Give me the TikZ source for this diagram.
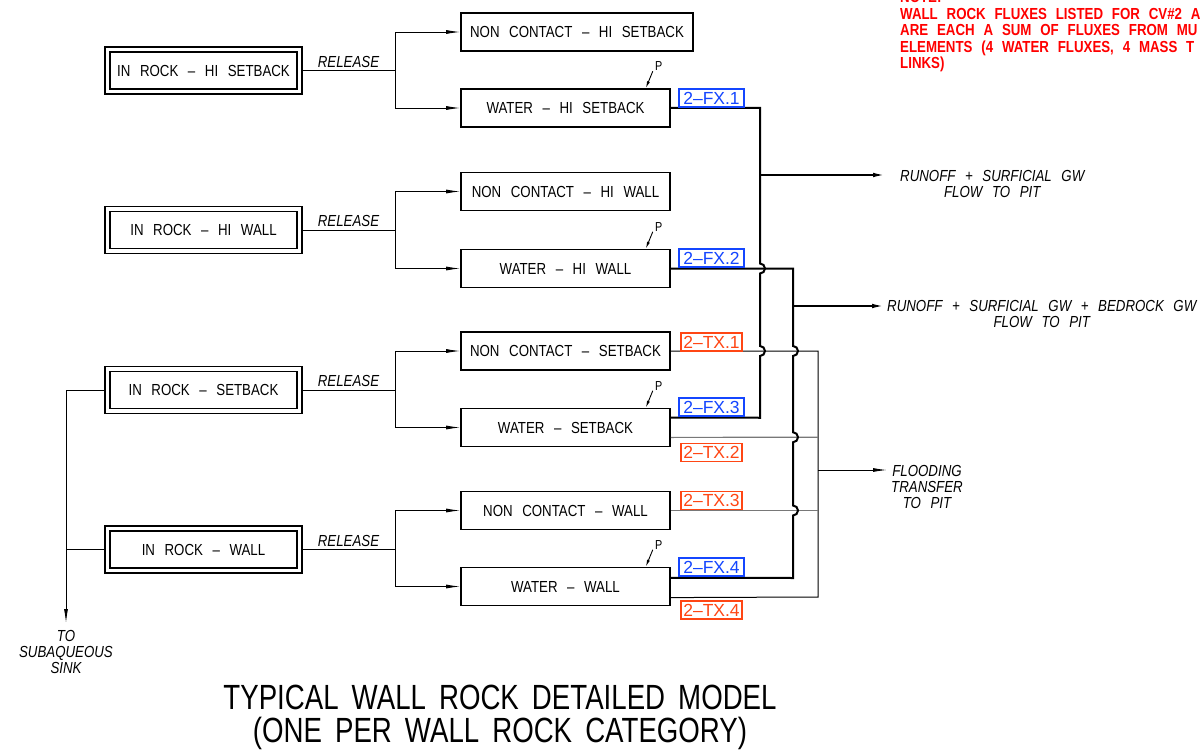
\documentclass[tikz,border=0pt]{standalone}
\usepackage{fontspec}
\setmainfont{Liberation Sans}[FakeStretch=0.83, WordSpace=2.6]
\newfontfamily\labfont{Liberation Sans}
\newfontfamily\titlefont{Liberation Sans}[FakeStretch=0.79, WordSpace=1.7]
\newfontfamily\notefont{Liberation Sans}[FakeStretch=0.83, WordSpace=2.4]
\usetikzlibrary{arrows.meta,calc}
\definecolor{fxblue}{RGB}{20,70,255}
\definecolor{txorange}{RGB}{255,70,20}
\definecolor{notered}{RGB}{255,0,0}
\definecolor{txgray}{RGB}{120,120,120}
\begin{document}
\begin{tikzpicture}[x=1pt,y=-1pt,
  every node/.style={font=\fontsize{16}{16}\selectfont, inner sep=0pt},
  procbox/.style={draw, line width=1.6pt, minimum height=38pt, minimum width=209pt},
  srcbox/.style={draw, line width=1.2pt, double, double distance=3.8pt, minimum width=192pt, minimum height=42pt, outer sep=2.5pt},
  flow/.style={-{Latex[length=14pt,width=4pt]}, line width=0.9pt},
  fx/.style={line width=2pt},
  tx/.style={line width=1pt},
  txg/.style={line width=1.2pt, txgray},
  fxlab/.style={draw=fxblue, text=fxblue, line width=1.3pt, minimum width=65pt, minimum height=18pt, font=\labfont\fontsize{17.5}{17.5}\selectfont},
  txlab/.style={draw=txorange, text=txorange, line width=1.3pt, minimum width=61pt, minimum height=18pt, font=\labfont\fontsize{17.5}{17.5}\selectfont},
  rel/.style={font=\fontsize{16}{16}\selectfont\itshape},
  outtxt/.style={font=\fontsize{16}{16}\selectfont\itshape, align=center},
  pmark/.style={font=\fontsize{13}{13}\selectfont},
  note/.style={text=notered, anchor=base west, font=\notefont\bfseries\fontsize{16}{16}\selectfont}
]
\useasboundingbox (0,0) rectangle (1203,752);
\fill[white] (0,0) rectangle (1203,752);

% source boxes
\node[srcbox] (s1) at (203.5,70.5) {IN ROCK – HI SETBACK};
\node[srcbox] (s2) at (203.5,230) {IN ROCK – HI WALL};
\node[srcbox] (s3) at (203.5,390) {IN ROCK – SETBACK};
\node[srcbox] (s4) at (203.5,549.5) {IN ROCK – WALL};

% process boxes
\node[procbox, minimum width=232pt] (nc1) at (577,32) {NON CONTACT – HI SETBACK};
\node[procbox] (w1) at (565.5,108) {WATER – HI SETBACK};
\node[procbox] (nc2) at (565.5,191.5) {NON CONTACT – HI WALL};
\node[procbox] (w2) at (565.5,268.5) {WATER – HI WALL};
\node[procbox] (nc3) at (565.5,351) {NON CONTACT – SETBACK};
\node[procbox] (w3) at (565.5,427.5) {WATER – SETBACK};
\node[procbox] (nc4) at (565.5,510.5) {NON CONTACT – WALL};
\node[procbox] (w4) at (565.5,586.5) {WATER – WALL};

% release branches
\foreach \s/\nc/\w/\y in {s1/nc1/w1/70.5, s2/nc2/w2/230, s3/nc3/w3/390, s4/nc4/w4/549.5}{
  \coordinate (b\s) at (395,\y);
  \draw[line width=0.9pt] (\s.east) -- node[rel, above=2.5pt]{RELEASE} (b\s);
  \draw[flow] (b\s) |- (\nc.west);
  \draw[flow] (b\s) |- (\w.west);
}

% P markers
\foreach \w/\n in {w1/1, w2/2, w3/3, w4/4}{
  \coordinate (ptip\n) at ($(\w.north east)+(-25,0)$);
  \coordinate (ptail\n) at ($(\w.north east)+(-18,-17)$);
  \draw[-{Latex[length=7pt,width=3pt]}, line width=0.9pt] (ptail\n) -- (ptip\n);
  \node[pmark] (p\n) at ($(\w.north east)+(-12,-22)$) {P};
}

% connection points on water boxes
\coordinate (w3fx) at ($(w3.north east)!0.25!(w3.south east)$);
\coordinate (w3tx) at ($(w3.north east)!0.75!(w3.south east)$);
\coordinate (w4fx) at ($(w4.north east)!0.28!(w4.south east)$);
\coordinate (w4tx) at ($(w4.north east)!0.78!(w4.south east)$);

% TX lines (drawn first)
\draw[tx] (nc3.east) -- (818,351) -- (818,597) -- (w4tx);
\draw[txg] (w3tx) -- (818,437.25);
\draw[txg] (nc4.east) -- (818,510.5);
\coordinate (fltip) at (887,470);
\draw[flow] (818,470) -- (fltip);

% FX collector A (x=760)
\draw[fx] (w1.east) -- (760,108) -- (760,263.5) arc[start angle=90,end angle=-90,radius=5pt]
  -- (760,346) arc[start angle=90,end angle=-90,radius=5pt] -- (760,417.75) -- (w3fx);
\coordinate (runA) at (887,175);
\draw[fx, -{Latex[length=14pt,width=4.5pt]}] (760,175) -- (runA);

% FX collector B (x=793)
\draw[fx] (w2.east) -- (793,268.5) -- (793,346) arc[start angle=90,end angle=-90,radius=5pt]
  -- (793,432.25) arc[start angle=90,end angle=-90,radius=5pt]
  -- (793,505.5) arc[start angle=90,end angle=-90,radius=5pt] -- (793,578) -- (w4fx);
\coordinate (runB) at (886,306);
\draw[fx, -{Latex[length=14pt,width=4.5pt]}] (793,306) -- (runB);

% labels
\node[fxlab] (lfx1) at (711.5,98) {2–FX.1};
\node[fxlab] (lfx2) at (711.5,258) {2–FX.2};
\node[txlab] (ltx1) at (711.5,342) {2–TX.1};
\node[fxlab] (lfx3) at (711.5,407) {2–FX.3};
\node[txlab] (ltx2) at (711.5,452.5) {2–TX.2};
\node[txlab] (ltx3) at (711.5,500.5) {2–TX.3};
\node[fxlab] (lfx4) at (711.5,567) {2–FX.4};
\node[txlab] (ltx4) at (711.5,610) {2–TX.4};

% outputs text
\node[outtxt, anchor=north west] (oA) at (900,170.2) {RUNOFF + SURFICIAL GW\\FLOW TO PIT};
\node[outtxt, anchor=north west] (oB) at (887,300.2) {RUNOFF + SURFICIAL GW + BEDROCK GW\\FLOW TO PIT};
\node[outtxt, anchor=north] (oC) at (927,465.2) {FLOODING\\TRANSFER\\TO PIT};

% subaqueous sink
\coordinate (sink) at (66,623);
\draw[flow] (s3.west) -| (sink);
\draw[line width=0.9pt] (s4.west) -- (s4.west -| sink);
\node[outtxt, anchor=north] (oD) at (66,630.2) {TO\\SUBAQUEOUS\\SINK};

% notes
\node[note] (n0) at (900,3) {NOTE:};
\node[note] (n1) at (900,20) {WALL ROCK FLUXES LISTED FOR CV\#2 A};
\node[note] (n2) at (900,36) {ARE EACH A SUM OF FLUXES FROM MU};
\node[note] (n3) at (900,53) {ELEMENTS (4 WATER FLUXES, 4 MASS T};
\node[note] (n4) at (900,69) {LINKS)};

% title
\node[font=\titlefont\fontsize{35}{35}\selectfont] (t1) at (500,697) {TYPICAL WALL ROCK DETAILED MODEL};
\node[font=\titlefont\fontsize{35}{35}\selectfont] (t2) at (500,733) {(ONE PER WALL ROCK CATEGORY)};
\end{tikzpicture}
\end{document}
